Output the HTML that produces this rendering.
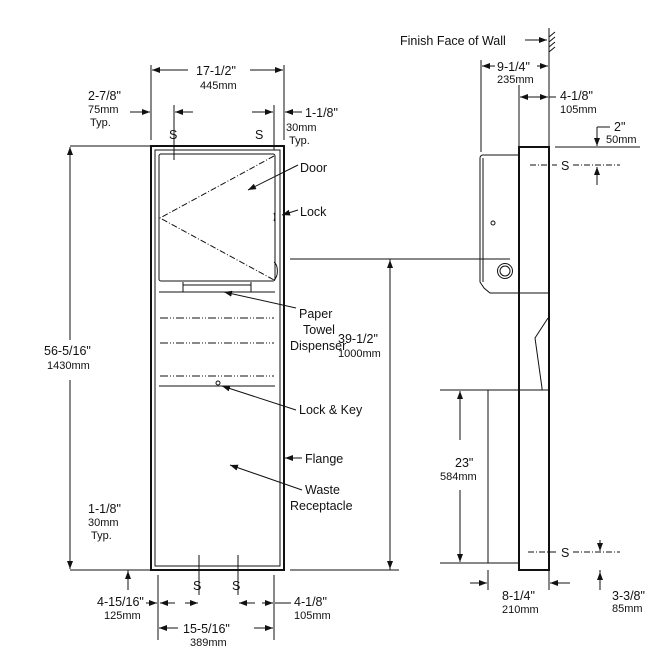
<!DOCTYPE html>
<html><head><style>body{margin:0;background:#fff}svg{display:block}text{font-family:"Liberation Sans",sans-serif;fill:#111}</style></head><body>
<svg width="663" height="663" viewBox="0 0 663 663" xmlns="http://www.w3.org/2000/svg">
<defs><marker id="a" markerWidth="8" markerHeight="6" refX="8" refY="3" orient="auto"><path d="M0,0L8,3L0,6z" fill="#111"/></marker></defs>
<g stroke="#111" fill="none" stroke-width="1">
<!-- front view -->
<rect x="151" y="146" width="133" height="424" stroke-width="2"/>
<rect x="155" y="150" width="125" height="416"/>
<rect x="159" y="154" width="116" height="127" rx="2"/>
<path d="M274,156L160,218L274,280" stroke-dasharray="6,2,1,2"/>
<path d="M159,292H275M183,282V292M251,282V292M183,285H251"/>
<path d="M160,318H274M160,343H274M160,376H274" stroke-dasharray="8,2,1,2,1,2"/>
<path d="M159,386H275"/>
<circle cx="218" cy="383" r="2"/>
<path d="M274,213a2,5 0 0 1 0,8M274,262a6,10 0 0 1 0,18"/>
<!-- dims front -->
<path d="M151,65V140M284,65V140M174,105V160M274,105V150M70,146H150M70,570H150M128,570V590M158,575V640M274,575V640M199,555V595M238,555V595M290,259H510M390,259V570M320,570H399M290,570H330" />
<line x1="188" y1="70" x2="152" y2="70" marker-end="url(#a)"/><line x1="250" y1="70" x2="283" y2="70" marker-end="url(#a)"/>
<line x1="130" y1="112" x2="150" y2="112" marker-end="url(#a)"/><line x1="193" y1="112" x2="175" y2="112" marker-end="url(#a)"/>
<line x1="252" y1="112" x2="273" y2="112" marker-end="url(#a)"/><line x1="302" y1="112" x2="285" y2="112" marker-end="url(#a)"/>
<line x1="70" y1="340" x2="70" y2="147" marker-end="url(#a)"/><line x1="70" y1="380" x2="70" y2="569" marker-end="url(#a)"/>
<line x1="390" y1="325" x2="390" y2="260" marker-end="url(#a)"/><line x1="390" y1="365" x2="390" y2="569" marker-end="url(#a)"/>
<line x1="128" y1="590" x2="128" y2="571" marker-end="url(#a)"/>
<line x1="146" y1="603" x2="157" y2="603" marker-end="url(#a)"/><line x1="175" y1="603" x2="160" y2="603" marker-end="url(#a)"/>
<line x1="185" y1="603" x2="198" y2="603" marker-end="url(#a)"/>
<line x1="255" y1="603" x2="239" y2="603" marker-end="url(#a)"/><line x1="262" y1="603" x2="273" y2="603" marker-end="url(#a)"/><line x1="275" y1="603" x2="291" y2="603"/>
<line x1="178" y1="628" x2="159" y2="628" marker-end="url(#a)"/><line x1="254" y1="628" x2="273" y2="628" marker-end="url(#a)"/>
<line x1="298" y1="165" x2="248" y2="190" marker-end="url(#a)"/>
<line x1="298" y1="210" x2="282" y2="215" marker-end="url(#a)"/>
<line x1="296" y1="308" x2="224" y2="292" marker-end="url(#a)"/>
<line x1="296" y1="410" x2="222" y2="386" marker-end="url(#a)"/>
<line x1="302" y1="458" x2="285" y2="458" marker-end="url(#a)"/>
<line x1="302" y1="490" x2="230" y2="465" marker-end="url(#a)"/>
<!-- side view -->
<rect x="519" y="147" width="30" height="423" stroke-width="2"/>
<path d="M519,155H483a3,3 0 0 0-3,3V282l4,6 6,5H519M483,158V282M519,293H549"/>
<circle cx="493" cy="223" r="2"/><circle cx="505" cy="271" r="7.5"/><circle cx="505" cy="271" r="5"/>
<path d="M548,318L535,338L542,388V390"/>
<path d="M488,390H519V563H488ZM519,390H549"/>
<path d="M481,60V152M519,85V148M549,28V148M555,147H640M488,570V590M549,570V590M440,390H488M440,563H488M600,570V590"/>
<path d="M530,165H557M573,165H620M528,552H557M573,552H620" stroke-dasharray="6,2,1,2"/>
<path d="M597,127H610M597,127V145M597,185V167"/>
<path d="M549,37l6,-5M549,42l6,-5M549,47l6,-5M549,52l6,-5"/>
<line x1="525" y1="40" x2="547" y2="40" marker-end="url(#a)"/>
<line x1="495" y1="66" x2="482" y2="66" marker-end="url(#a)"/><line x1="537" y1="66" x2="548" y2="66" marker-end="url(#a)"/>
<line x1="534" y1="97" x2="520" y2="97" marker-end="url(#a)"/><line x1="534" y1="97" x2="548" y2="97" marker-end="url(#a)"/><line x1="549" y1="97" x2="556" y2="97"/>
<line x1="597" y1="135" x2="597" y2="146" marker-end="url(#a)"/><line x1="597" y1="185" x2="597" y2="167" marker-end="url(#a)"/>
<line x1="600" y1="540" x2="600" y2="551" marker-end="url(#a)"/><line x1="600" y1="590" x2="600" y2="572" marker-end="url(#a)"/>
<line x1="460" y1="440" x2="460" y2="391" marker-end="url(#a)"/><line x1="460" y1="490" x2="460" y2="562" marker-end="url(#a)"/>
<line x1="470" y1="583" x2="487" y2="583" marker-end="url(#a)"/><line x1="570" y1="583" x2="550" y2="583" marker-end="url(#a)"/>
</g>
<g font-size="12.5">
<text x="196" y="75">17-1/2"</text><text x="200" y="89" font-size="11">445mm</text>
<text x="88" y="100">2-7/8"</text><text x="88" y="113" font-size="11">75mm</text><text x="90" y="126" font-size="11">Typ.</text>
<text x="305" y="117">1-1/8"</text><text x="286" y="131" font-size="11">30mm</text><text x="289" y="144" font-size="11">Typ.</text>
<text x="169" y="139">S</text><text x="255" y="139">S</text>
<text x="300" y="172">Door</text><text x="300" y="216">Lock</text>
<text x="299" y="318">Paper</text><text x="303" y="334">Towel</text><text x="290" y="350">Dispenser</text>
<text x="299" y="414">Lock &amp; Key</text><text x="305" y="463">Flange</text>
<text x="305" y="494">Waste</text><text x="290" y="510">Receptacle</text>
<text x="44" y="355">56-5/16"</text><text x="47" y="369" font-size="11">1430mm</text>
<text x="338" y="343">39-1/2"</text><text x="338" y="357" font-size="11">1000mm</text>
<text x="88" y="513">1-1/8"</text><text x="88" y="526" font-size="11">30mm</text><text x="91" y="539" font-size="11">Typ.</text>
<text x="193" y="590">S</text><text x="232" y="590">S</text>
<text x="97" y="606">4-15/16"</text><text x="104" y="619" font-size="11">125mm</text>
<text x="294" y="606">4-1/8"</text><text x="294" y="619" font-size="11">105mm</text>
<text x="183" y="633">15-5/16"</text><text x="190" y="646" font-size="11">389mm</text>
<text x="400" y="45">Finish Face of Wall</text>
<text x="497" y="71">9-1/4"</text><text x="497" y="83" font-size="11">235mm</text>
<text x="560" y="100">4-1/8"</text><text x="560" y="113" font-size="11">105mm</text>
<text x="614" y="131">2"</text><text x="606" y="143" font-size="11">50mm</text>
<text x="561" y="170">S</text><text x="561" y="557">S</text>
<text x="455" y="467">23"</text><text x="440" y="480" font-size="11">584mm</text>
<text x="502" y="600">8-1/4"</text><text x="502" y="613" font-size="11">210mm</text>
<text x="612" y="600">3-3/8"</text><text x="612" y="612" font-size="11">85mm</text>
</g>
</svg></body></html>
